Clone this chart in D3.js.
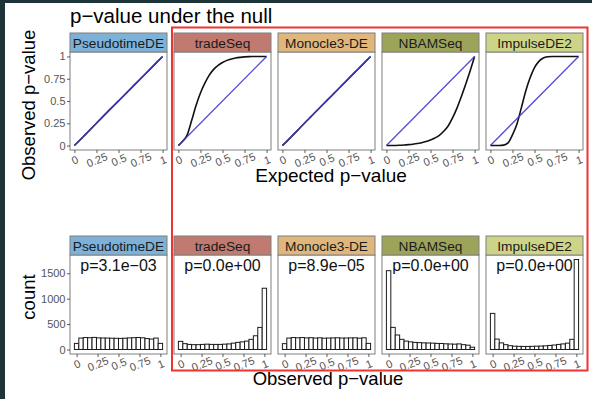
<!DOCTYPE html>
<html><head><meta charset="utf-8">
<script src="https://cdn.jsdelivr.net/npm/d3@7/dist/d3.min.js"></script>
<style>body{margin:0;background:#fff}svg{display:block}</style>
</head><body><svg id="c" width="592" height="399"></svg>
<script>
// ---------- data ----------
const methods = ["PseudotimeDE", "tradeSeq", "Monocle3-DE", "NBAMSeq", "ImpulseDE2"];
const stripColors = ["#7db1d8", "#c17a70", "#dfb67c", "#9da45a", "#cdd488"];
const pLabels = ["p=3.1e\u221203", "p=0.0e+00", "p=8.9e\u221205", "p=0.0e+00", "p=0.0e+00"];

// QQ curves: expected p-value grid and observed quantiles per method
const qqExpected = [0, 0.05, 0.1, 0.15, 0.2, 0.25, 0.3, 0.35, 0.4, 0.45, 0.5, 0.55, 0.6, 0.65, 0.7, 0.75, 0.8, 0.85, 0.9, 0.95, 1];
const qqPseudotimeDE = [0, 0.048, 0.098, 0.149, 0.2, 0.251, 0.302, 0.353, 0.403, 0.452, 0.501, 0.55, 0.6, 0.65, 0.7, 0.75, 0.8, 0.85, 0.9, 0.95, 1];
const qqTradeSeq = [0, 0.05, 0.12, 0.28, 0.45, 0.59, 0.7, 0.79, 0.855, 0.9, 0.932, 0.956, 0.972, 0.983, 0.99, 0.995, 0.998, 0.999, 1, 1, 1];
const qqMonocle3 = [0, 0.047, 0.097, 0.148, 0.199, 0.25, 0.301, 0.352, 0.402, 0.452, 0.502, 0.551, 0.601, 0.651, 0.701, 0.751, 0.801, 0.851, 0.9, 0.95, 1];
const qqNBAMSeq = [0, 0, 0.001, 0.003, 0.006, 0.01, 0.015, 0.022, 0.032, 0.045, 0.062, 0.085, 0.115, 0.16, 0.22, 0.31, 0.42, 0.55, 0.69, 0.84, 1];
const qqImpulseDE2 = [0, 0, 0, 0.005, 0.03, 0.12, 0.24, 0.42, 0.61, 0.76, 0.875, 0.945, 0.982, 0.996, 1, 1, 1, 1, 1, 1, 1];
const qqObserved = [qqPseudotimeDE, qqTradeSeq, qqMonocle3, qqNBAMSeq, qqImpulseDE2];

// Histogram counts (20 bins over observed p-value)
const histPseudotimeDE = [120, 225, 235, 232, 238, 228, 226, 225, 222, 220, 218, 222, 228, 232, 236, 230, 215, 205, 225, 120];
const histTradeSeq = [160, 115, 100, 95, 95, 100, 105, 100, 100, 100, 105, 110, 125, 140, 150, 165, 200, 270, 435, 1205];
const histMonocle3 = [115, 225, 235, 230, 235, 228, 232, 225, 230, 222, 225, 228, 230, 225, 226, 228, 230, 222, 230, 120];
const histNBAMSeq = [1550, 435, 285, 200, 165, 150, 140, 135, 130, 128, 125, 120, 118, 112, 108, 105, 110, 95, 85, 45];
const histImpulseDE2 = [710, 205, 130, 95, 75, 65, 62, 60, 60, 62, 65, 68, 72, 80, 88, 100, 110, 125, 200, 1770];
const histCounts = [histPseudotimeDE, histTradeSeq, histMonocle3, histNBAMSeq, histImpulseDE2];

const xTickValues = [0, 0.25, 0.5, 0.75, 1];
const xTickLabels = ["0", "0.25", "0.5", "0.75", "1"];
const qqYTickValues = [0, 0.25, 0.5, 0.75, 1];
const qqYTickLabels = ["0", "0.25", "0.5", "0.75", "1"];
const histYTickValues = [0, 500, 1000, 1500];
const histYTickLabels = ["0", "500", "1000", "1500"];

const titleText = "p\u2212value under the null";
const qqXTitle = "Expected p\u2212value";
const qqYTitle = "Observed p\u2212value";
const histXTitle = "Observed p\u2212value";
const histYTitle = "count";

// ---------- layout ----------
const FONT = "'Liberation Sans', Arial, Helvetica, sans-serif";
const svg = d3.select("#c");
svg.append("rect").attr("width", 592).attr("height", 399).attr("fill", "#ffffff");
// dark frame edges of the screenshot
svg.append("rect").attr("x", 0).attr("y", 0).attr("width", 5).attr("height", 399).attr("fill", "#1d3539");
svg.append("rect").attr("x", 0).attr("y", 0).attr("width", 592).attr("height", 3).attr("fill", "#1d3539");

const panelX0 = 70, panelW = 97, panelStep = 104;
const rowTop = { stripY: 33, panelY: 52, panelB: 150 };
const rowBot = { stripY: 236, panelY: 255, panelB: 354 };

svg.append("text").attr("x", 70).attr("y", 23).attr("font-family", FONT).attr("font-size", 20.5)
  .attr("fill", "#000").text(titleText);

const nBins = histPseudotimeDE.length;
const bw = 1 / (nBins - 1);
const hLo = -bw / 2, hHi = 1 + bw / 2;
const hPad = (hHi - hLo) * 0.05;
const hMax = d3.max(histCounts.flat());

function styleAxis(g) {
  g.select(".domain").remove();
  g.selectAll(".tick line").attr("stroke", "#333").attr("stroke-width", 0.8);
  g.selectAll(".tick text").attr("fill", "#555").attr("font-family", FONT).attr("font-size", 11);
}

function drawStrip(i, x0, L) {
  svg.append("rect").attr("x", x0).attr("y", L.stripY).attr("width", panelW).attr("height", L.panelY - L.stripY)
    .attr("fill", stripColors[i]).attr("stroke", "#7f7f7f").attr("stroke-width", 1);
  svg.append("text").attr("x", x0 + panelW / 2).attr("y", L.panelY - 3.6).attr("text-anchor", "middle")
    .attr("font-family", FONT).attr("font-size", 13.7).attr("fill", "#1a1a1a").text(methods[i]);
}

function xAxis(x, L) {
  const g = svg.append("g").attr("transform", `translate(0,${L.panelB})`)
    .call(d3.axisBottom(x).tickValues(xTickValues).tickFormat((d, k) => xTickLabels[k]).tickSize(3).tickPadding(0));
  styleAxis(g);
  g.selectAll(".tick text").attr("y", 0).attr("dy", "0.35em")
    .attr("transform", "translate(0,10) rotate(-22)").attr("text-anchor", "middle");
}

methods.forEach((m, i) => {
  const x0 = panelX0 + i * panelStep;

  // ---- top row: QQ ----
  const xq = d3.scaleLinear().domain([-0.05, 1.05]).range([x0, x0 + panelW]);
  const yq = d3.scaleLinear().domain([-0.05, 1.05]).range([rowTop.panelB, rowTop.panelY]);
  svg.append("rect").attr("x", x0).attr("y", rowTop.panelY).attr("width", panelW).attr("height", rowTop.panelB - rowTop.panelY)
    .attr("fill", "#fff");
  const pts = qqExpected.map((e, k) => [e, qqObserved[i][k]]);
  svg.append("path").datum(pts).attr("fill", "none").attr("stroke", "#111").attr("stroke-width", 1.6)
    .attr("d", d3.line().x(d => xq(d[0])).y(d => yq(d[1])).curve(d3.curveMonotoneX));
  svg.append("line").attr("x1", xq(0)).attr("y1", yq(0)).attr("x2", xq(1)).attr("y2", yq(1))
    .attr("stroke", "#3b3bd0").attr("stroke-width", 1.3).attr("stroke-opacity", 0.9);
  svg.append("rect").attr("x", x0).attr("y", rowTop.panelY).attr("width", panelW).attr("height", rowTop.panelB - rowTop.panelY)
    .attr("fill", "none").attr("stroke", "#7f7f7f").attr("stroke-width", 1);
  drawStrip(i, x0, rowTop);
  xAxis(xq, rowTop);
  if (i === 0) {
    const g = svg.append("g").attr("transform", `translate(${x0},0)`)
      .call(d3.axisLeft(yq).tickValues(qqYTickValues).tickFormat((d, k) => qqYTickLabels[k]).tickSize(3).tickPadding(1.5));
    styleAxis(g);
  }

  // ---- bottom row: histograms ----
  const xh = d3.scaleLinear().domain([hLo - hPad, hHi + hPad]).range([x0, x0 + panelW]);
  const yh = d3.scaleLinear().domain([-0.05 * hMax, 1.05 * hMax]).range([rowBot.panelB, rowBot.panelY]);
  svg.append("rect").attr("x", x0).attr("y", rowBot.panelY).attr("width", panelW).attr("height", rowBot.panelB - rowBot.panelY)
    .attr("fill", "#fff");
  svg.append("g").selectAll("rect").data(histCounts[i]).join("rect")
    .attr("x", (d, k) => xh(hLo + k * bw))
    .attr("width", xh(bw) - xh(0))
    .attr("y", d => yh(d))
    .attr("height", d => yh(0) - yh(d))
    .attr("fill", "#fff").attr("stroke", "#1a1a1a").attr("stroke-width", 1);
  svg.append("text").attr("x", x0 + panelW / 2).attr("y", 271).attr("text-anchor", "middle")
    .attr("font-family", FONT).attr("font-size", 16).attr("fill", "#111").text(pLabels[i]);
  svg.append("rect").attr("x", x0).attr("y", rowBot.panelY).attr("width", panelW).attr("height", rowBot.panelB - rowBot.panelY)
    .attr("fill", "none").attr("stroke", "#7f7f7f").attr("stroke-width", 1);
  drawStrip(i, x0, rowBot);
  xAxis(xh, rowBot);
  if (i === 0) {
    const g = svg.append("g").attr("transform", `translate(${x0},0)`)
      .call(d3.axisLeft(yh).tickValues(histYTickValues).tickFormat((d, k) => histYTickLabels[k]).tickSize(3).tickPadding(1.5));
    styleAxis(g);
  }
});

// axis titles
svg.append("text").attr("x", 331).attr("y", 182).attr("text-anchor", "middle").attr("font-family", FONT)
  .attr("font-size", 19).attr("fill", "#000").text(qqXTitle);
svg.append("text").attr("x", 328).attr("y", 385).attr("text-anchor", "middle").attr("font-family", FONT)
  .attr("font-size", 18.5).attr("fill", "#000").text(histXTitle);
svg.append("text").attr("transform", "translate(35,105) rotate(-90)").attr("text-anchor", "middle").attr("font-family", FONT)
  .attr("font-size", 18.5).attr("fill", "#000").text(qqYTitle);
svg.append("text").attr("transform", "translate(35,297) rotate(-90)").attr("text-anchor", "middle").attr("font-family", FONT)
  .attr("font-size", 18.5).attr("fill", "#000").text(histYTitle);

// red highlight box
svg.append("rect").attr("x", 172).attr("y", 27.5).attr("width", 415.5).attr("height", 343)
  .attr("fill", "none").attr("stroke", "#f03232").attr("stroke-width", 2);
</script></body></html>
